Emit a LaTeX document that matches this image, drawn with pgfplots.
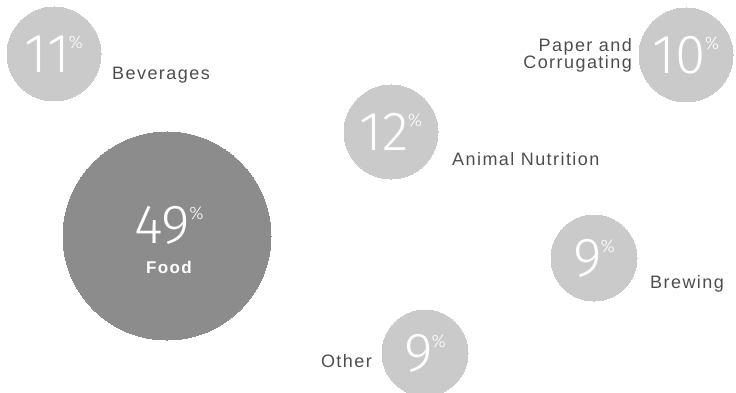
\documentclass[border=0pt]{standalone}
\usepackage{pgfplots}
\pgfplotsset{compat=1.18}
\usepackage{fontspec}
\setmainfont{Liberation Sans}[LetterSpace=8]
\newfontfamily\thin{Fira Sans Light}[Numbers=Proportional]
\definecolor{cLight}{HTML}{CACACA}
\definecolor{cDark}{HTML}{8C8C8C}
\definecolor{labelc}{HTML}{4D4D4D}
\newcommand\pctlabel[1]{{\thin\fontsize{55}{55}\selectfont #1}\kern-1pt\raisebox{24pt}{\thin\fontsize{18}{18}\selectfont\%}}
\pgfplotsset{bubble/.style 2 args={only marks, mark=*, mark size=#1pt,
  color=#2, mark options={draw=#2, fill=#2, line width=0pt}, point meta=explicit symbolic,
  nodes near coords={\pctlabel{\pgfplotspointmeta}}, nodes near coords align=center,
  every node near coord/.append style={white, anchor=center, inner sep=0pt}}}
\begin{document}
\begin{tikzpicture}
\begin{axis}[scale only axis, width=736pt, height=393pt,
  xmin=0, xmax=736, ymin=0, ymax=393, y dir=reverse, hide axis, clip=false]
% Beverages 11%
\addplot[bubble={47}{cLight}] coordinates {(54,54) [11]};
% Paper and Corrugating 10%
\addplot[bubble={47}{cLight}] coordinates {(686,55) [10]};
% Animal Nutrition 12%
\addplot[bubble={47}{cLight}] coordinates {(391,132) [12]};
% Brewing 9%
\addplot[bubble={43}{cLight}] coordinates {(594,258) [9]};
% Other 9%
\addplot[bubble={43}{cLight}] coordinates {(425,353) [9]};
% Food 49%
\addplot[bubble={104}{cDark},
  nodes near coords={\pctlabel{\pgfplotspointmeta}\\[15pt]{\bfseries\fontsize{17}{17}\selectfont Food}},
  every node near coord/.append style={align=center, yshift=-4pt, xshift=2pt}] coordinates {(167,236) [49]};
\node[anchor=base west, inner sep=0pt, text=labelc, font=\fontsize{18}{18}\selectfont] at (axis cs:112,80) {Beverages};
\node[anchor=base east, inner sep=0pt, text=labelc, font=\fontsize{18}{18}\selectfont] at (axis cs:632,52) {Paper and};
\node[anchor=base east, inner sep=0pt, text=labelc, font=\fontsize{18}{18}\selectfont] at (axis cs:632,69) {Corrugating};
\node[anchor=base west, inner sep=0pt, text=labelc, font=\fontsize{18}{18}\selectfont] at (axis cs:452,165) {Animal Nutrition};
\node[anchor=base west, inner sep=0pt, text=labelc, font=\fontsize{18}{18}\selectfont] at (axis cs:650,288) {Brewing};
\node[anchor=base east, inner sep=0pt, text=labelc, font=\fontsize{18}{18}\selectfont] at (axis cs:372,367) {Other};
\end{axis}
\pgfresetboundingbox
\path (current axis.south west) rectangle (current axis.north east);
\end{tikzpicture}
\end{document}
